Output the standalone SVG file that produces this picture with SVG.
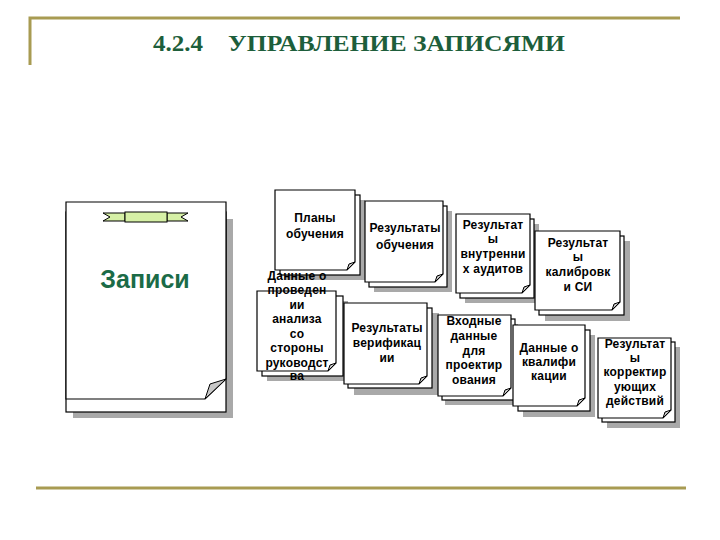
<svg xmlns="http://www.w3.org/2000/svg" width="720" height="540" viewBox="0 0 720 540">
<style>
.rule{stroke:#a89b52;stroke-width:3;fill:none}
.title{font-family:"Liberation Serif","Times New Roman",serif;font-weight:bold;font-size:23px;fill:#1d5e3b}
.shadow{fill:#a9a9a9;stroke:none}
.page{fill:#fff;stroke:#000;stroke-width:1.2}
.fold{fill:#c8c8c8;stroke:#000;stroke-width:1}
.lbl{font-family:"Liberation Sans",Arial,sans-serif;font-weight:bold;font-size:12px;letter-spacing:0.2px;fill:#000;text-anchor:middle}
.big{font-family:"Liberation Sans",Arial,sans-serif;font-weight:bold;font-size:25px;fill:#1b6b47;text-anchor:middle}
.ribbon{fill:#d6f0a6;stroke:#000;stroke-width:1}
</style>
<rect width="720" height="540" fill="#fff"/>
<g id="frame">
<path class="rule" d="M30,65 V18 H680"/>
<path class="rule" d="M36,488 H686"/>
</g>
<g id="title">
<text class="title" x="153" y="51" textLength="50" lengthAdjust="spacingAndGlyphs">4.2.4</text>
<text class="title" x="228" y="51" textLength="337" lengthAdjust="spacingAndGlyphs">УПРАВЛЕНИЕ ЗАПИСЯМИ</text>
</g>
<g id="records">
<rect class="shadow" x="73" y="219" width="160" height="199"/>
<rect class="page" x="66" y="212" width="160" height="200"/>
<path class="page" d="M66,202 H226 V379 L205,399 H66 Z"/>
<path class="fold" d="M226,379 L205,399 L210,384 Z"/>
<path class="ribbon" d="M103,213 H125 V221 H103 L110,217 Z"/>
<path class="ribbon" d="M188,213 H167 V221 H188 L181,217 Z"/>
<rect class="ribbon" x="125" y="212" width="42" height="10"/>
<text class="big" x="145" y="288">Записи</text>
</g>
<g id="doc-plans">
<rect class="shadow" x="285" y="200" width="80" height="80"/>
<rect class="page" x="280" y="195" width="80" height="80"/>
<path class="page" d="M275,190 H355 V262 L347,270 H275 Z"/>
<path class="fold" d="M355,262 L347,270 L349,264 Z"/>
<text class="lbl" x="315" y="222">Планы</text>
<text class="lbl" x="315" y="238">обучения</text>
</g>
<g id="doc-training-results">
<rect class="shadow" x="374" y="211" width="78" height="81"/>
<rect class="page" x="369" y="206" width="78" height="81"/>
<path class="page" d="M365,201 H443 V274 L435,282 H365 Z"/>
<path class="fold" d="M443,274 L435,282 L437,276 Z"/>
<text class="lbl" x="405" y="232">Результаты</text>
<text class="lbl" x="405" y="249">обучения</text>
</g>
<g id="doc-audits">
<rect class="shadow" x="465" y="224" width="74" height="79"/>
<rect class="page" x="460" y="219" width="74" height="79"/>
<path class="page" d="M456,214 H530 V285 L522,293 H456 Z"/>
<path class="fold" d="M530,285 L522,293 L524,287 Z"/>
<text class="lbl" x="493" y="229">Результат</text>
<text class="lbl" x="493" y="243">ы</text>
<text class="lbl" x="493" y="258">внутренни</text>
<text class="lbl" x="493" y="273">х аудитов</text>
</g>
<g id="doc-calibration">
<rect class="shadow" x="545" y="241" width="85" height="80"/>
<rect class="page" x="539" y="236" width="85" height="79"/>
<path class="page" d="M535,231 H620 V302 L612,310 H535 Z"/>
<path class="fold" d="M620,302 L612,310 L614,304 Z"/>
<text class="lbl" x="578" y="247">Результат</text>
<text class="lbl" x="578" y="261">ы</text>
<text class="lbl" x="578" y="276">калибровк</text>
<text class="lbl" x="578" y="291">и СИ</text>
</g>
<g id="doc-management-review">
<rect class="shadow" x="267" y="301" width="81" height="80"/>
<rect class="page" x="262" y="296" width="81" height="80"/>
<path class="page" d="M257,291 H336 V363 L328,371 H257 Z"/>
<path class="fold" d="M336,363 L328,371 L330,365 Z"/>
<text class="lbl" x="297" y="280">Данные о</text>
<text class="lbl" x="297" y="294">проведен</text>
<text class="lbl" x="297" y="309">ии</text>
<text class="lbl" x="297" y="323">анализа</text>
<text class="lbl" x="297" y="338">со</text>
<text class="lbl" x="297" y="352">стороны</text>
<text class="lbl" x="297" y="367">руководст</text>
<text class="lbl" x="297" y="380">ва</text>
</g>
<g id="doc-verification">
<rect class="shadow" x="354" y="313" width="85" height="82"/>
<rect class="page" x="348" y="308" width="84" height="80"/>
<path class="page" d="M344,303 H427 V376 L419,384 H344 Z"/>
<path class="fold" d="M427,376 L419,384 L421,378 Z"/>
<text class="lbl" x="387" y="332">Результаты</text>
<text class="lbl" x="387" y="347">верификац</text>
<text class="lbl" x="387" y="362">ии</text>
</g>
<g id="doc-design-input">
<rect class="shadow" x="445" y="324" width="73" height="81"/>
<rect class="page" x="442" y="319" width="73" height="81"/>
<path class="page" d="M438,315 H511 V388 L503,396 H438 Z"/>
<path class="fold" d="M511,388 L503,396 L505,390 Z"/>
<text class="lbl" x="474" y="325">Входные</text>
<text class="lbl" x="474" y="340">данные</text>
<text class="lbl" x="474" y="355">для</text>
<text class="lbl" x="474" y="369">проектир</text>
<text class="lbl" x="474" y="384">ования</text>
</g>
<g id="doc-qualification">
<rect class="shadow" x="523" y="335" width="72" height="82"/>
<rect class="page" x="518" y="330" width="72" height="81"/>
<path class="page" d="M513,325 H585 V398 L577,406 H513 Z"/>
<path class="fold" d="M585,398 L577,406 L579,400 Z"/>
<text class="lbl" x="549" y="352">Данные о</text>
<text class="lbl" x="549" y="366">квалифи</text>
<text class="lbl" x="549" y="380">кации</text>
</g>
<g id="doc-corrective">
<rect class="shadow" x="607" y="347" width="73" height="81"/>
<rect class="page" x="602" y="342" width="73" height="80"/>
<path class="page" d="M598,338 H671 V410 L663,418 H598 Z"/>
<path class="fold" d="M671,410 L663,418 L665,412 Z"/>
<text class="lbl" x="635" y="348">Результат</text>
<text class="lbl" x="635" y="362">ы</text>
<text class="lbl" x="635" y="376">корректир</text>
<text class="lbl" x="635" y="391">ующих</text>
<text class="lbl" x="635" y="405">действий</text>
</g>
<g id="connectors"></g>
</svg>
